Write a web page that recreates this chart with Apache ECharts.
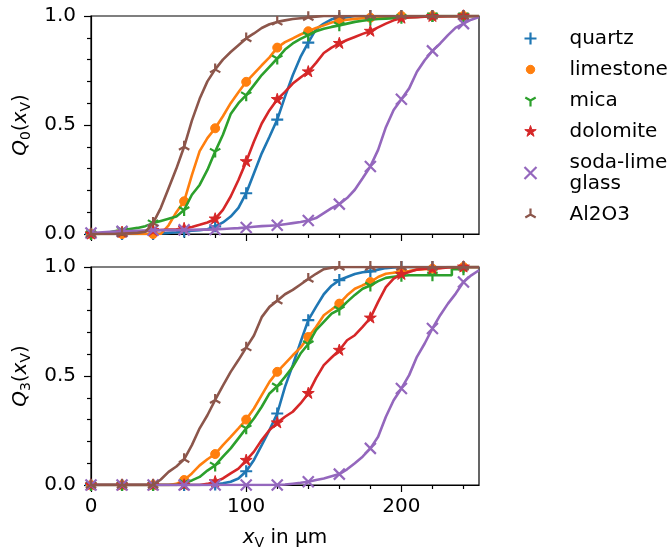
<!DOCTYPE html>
<html><head><meta charset="utf-8">
<script src="https://cdn.jsdelivr.net/npm/echarts@6/dist/echarts.min.js"></script>
<style>html,body{margin:0;padding:0;background:#fff}#c{width:668px;height:552px}</style>
</head><body><div id="c"></div>
<script>
// sampling positions in µm
const xs = [0,5,10,15,20,25,30,35,40,45,50,55,60,65,70,75,80,85,90,95,100,105,110,115,120,125,130,135,140,145,150,155,160,165,170,175,180,185,190,195,200,205,210,215,220,225,230,235,240,245,250];
const markerStep = 20;
const markerMax = 240;
const xTickMajor = [0,100,200];
const xTickMinor = [20,40,60,80,120,140,160,180,220,240];

// Q0 (number based)
const quartzQ0 = [0,0,0,0,0,0,0,0,0,0.002,0.005,0.008,0.012,0.015,0.017,0.022,0.035,0.053,0.08,0.12,0.187,0.279,0.37,0.446,0.525,0.63,0.728,0.812,0.878,0.94,0.965,0.985,0.99,0.995,1,1,1,1,1,1,1,1,1,1,1,1,1,1,1,1,1];
const limestoneQ0 = [0,0,0,0,0,0,0,0,0,0,0.04,0.10,0.15,0.27,0.38,0.44,0.485,0.54,0.60,0.65,0.698,0.736,0.774,0.81,0.855,0.88,0.897,0.915,0.93,0.945,0.957,0.97,0.978,0.983,0.987,0.99,0.992,0.994,0.996,0.998,1,1,1,1,1,1,1,1,1,1,1];
const micaQ0 = [0,0,0.005,0.012,0.018,0.023,0.028,0.036,0.05,0.06,0.07,0.08,0.11,0.18,0.225,0.294,0.378,0.455,0.55,0.60,0.637,0.683,0.729,0.767,0.805,0.846,0.874,0.895,0.912,0.93,0.942,0.95,0.957,0.965,0.973,0.978,0.983,0.986,0.988,0.99,0.992,0.994,0.996,0.998,1,1,1,1,1,1,1];
const dolomiteQ0 = [0,0.002,0.004,0.006,0.008,0.01,0.012,0.014,0.016,0.018,0.02,0.022,0.025,0.032,0.042,0.053,0.069,0.111,0.172,0.248,0.332,0.424,0.507,0.568,0.617,0.652,0.69,0.718,0.744,0.785,0.83,0.855,0.874,0.89,0.904,0.918,0.93,0.948,0.965,0.98,0.99,0.993,0.995,0.997,0.998,0.998,0.999,0.999,1,1,1];
const sodaQ0 = [0.005,0.007,0.009,0.011,0.012,0.014,0.015,0.016,0.017,0.018,0.018,0.018,0.019,0.019,0.02,0.02,0.021,0.023,0.025,0.027,0.03,0.033,0.036,0.038,0.04,0.045,0.05,0.055,0.062,0.073,0.096,0.119,0.137,0.165,0.203,0.256,0.31,0.386,0.49,0.569,0.618,0.668,0.744,0.797,0.84,0.874,0.912,0.947,0.965,0.983,0.995];
const al2o3Q0 = [0,0,0,0,0.002,0.003,0.005,0.01,0.05,0.12,0.21,0.30,0.40,0.52,0.62,0.70,0.755,0.80,0.835,0.866,0.897,0.92,0.945,0.962,0.973,0.98,0.986,0.99,0.994,0.997,1,1,1,1,1,1,1,1,1,1,1,1,1,1,1,1,1,1,1,1,1];

// Q3 (volume based)
const quartzQ3 = [0,0,0,0,0,0,0,0,0,0,0,0,0,0,0,0,0.002,0.008,0.015,0.03,0.063,0.115,0.183,0.252,0.328,0.45,0.55,0.655,0.756,0.817,0.875,0.914,0.94,0.954,0.968,0.976,0.98,0.988,0.995,0.998,1,1,1,1,1,1,1,1,1,1,1];
const limestoneQ3 = [0,0,0,0,0,0,0,0,0,0,0,0.005,0.023,0.053,0.09,0.118,0.142,0.183,0.221,0.26,0.30,0.351,0.412,0.473,0.519,0.557,0.595,0.63,0.679,0.725,0.779,0.805,0.832,0.87,0.90,0.916,0.931,0.954,0.969,0.974,0.977,0.982,0.988,0.99,0.992,0.996,1,1,1,1,1];
const micaQ3 = [0,0,0,0,0,0,0,0,0,0,0,0,0.01,0.021,0.037,0.066,0.09,0.13,0.168,0.214,0.26,0.305,0.359,0.42,0.453,0.496,0.542,0.603,0.647,0.71,0.748,0.786,0.805,0.84,0.872,0.9,0.915,0.935,0.95,0.955,0.96,0.962,0.962,0.962,0.962,0.962,0.962,0.99,0.99,1,1];
const micaQ3Steps = [[232.5,0.962],[232.5,0.99],[242.5,0.99],[242.5,1]];
const dolomiteQ3 = [0,0,0,0,0,0,0,0,0,0,0,0,0,0,0,0.005,0.015,0.03,0.053,0.075,0.113,0.153,0.206,0.252,0.285,0.313,0.336,0.374,0.42,0.49,0.55,0.585,0.618,0.664,0.687,0.725,0.766,0.84,0.908,0.947,0.966,0.977,0.988,0.992,0.992,0.995,0.998,0.999,1,1,1];
const sodaQ3 = [0,0,0,0,0,0,0,0,0,0,0,0,0,0,0,0,0,0,0,0,0,0,0,0,0,0.002,0.006,0.01,0.015,0.023,0.03,0.04,0.05,0.072,0.1,0.13,0.168,0.221,0.313,0.389,0.443,0.504,0.588,0.649,0.718,0.779,0.832,0.878,0.931,0.962,0.985];
const al2o3Q3 = [0,0,0,0,0,0,0,0,0,0.025,0.06,0.085,0.118,0.183,0.26,0.32,0.39,0.456,0.519,0.573,0.63,0.686,0.77,0.817,0.845,0.875,0.895,0.92,0.945,0.969,0.99,0.997,1,1,1,1,1,1,1,1,1,1,1,1,1,1,1,1,1,1,1];

const names = ['quartz','limestone','mica','dolomite','soda-lime\nglass','Al2O3'];
const colors = ['#1f77b4','#ff7f0e','#2ca02c','#d62728','#9467bd','#8c564b'];

const SQ = 'M-10,-10M10,10';
const PLUS = 'path://' + SQ + 'M0,-10L0,10M-10,0L10,0';
const TRI_DOWN = 'path://' + SQ + 'M0,0L0,10M0,0L-8.66,-5M0,0L8.66,-5';
const TRI_UP = 'path://' + SQ + 'M0,0L0,-10M0,0L-8.66,5M0,0L8.66,5';
const XMARK = 'path://M-10,-10L10,10M-10,10L10,-10';
const STAR = 'path://' + SQ + 'M0,-10L2.245,-3.09L9.51,-3.09L3.63,1.18L5.88,8.09L0,3.82L-5.88,8.09L-3.63,1.18L-9.51,-3.09L-2.245,-3.09Z';
const CIRC_LEG = 'path://' + SQ + 'M0,-7A7,7,0,1,1,0,7A7,7,0,1,1,0,-7Z';

const defs = [
  {sym: PLUS, leg: PLUS, size: 12, stroke: true, q0: quartzQ0, q3: quartzQ3},
  {sym: 'circle', leg: CIRC_LEG, size: 9, stroke: false, q0: limestoneQ0, q3: limestoneQ3},
  {sym: TRI_DOWN, leg: TRI_DOWN, size: 12, stroke: true, q0: micaQ0, q3: micaQ3, extra3: micaQ3Steps},
  {sym: STAR, leg: STAR, size: 12.5, stroke: false, q0: dolomiteQ0, q3: dolomiteQ3},
  {sym: XMARK, leg: XMARK, size: 11, stroke: true, q0: sodaQ0, q3: sodaQ3},
  {sym: TRI_UP, leg: TRI_UP, size: 12, stroke: true, q0: al2o3Q0, q3: al2o3Q3}
];

function styleFor(d, c) {
  return d.stroke ? {color: 'none', borderColor: c, borderWidth: 2.2}
                  : {color: c, borderColor: c, borderWidth: 1};
}
function isMarker(x) { return x % markerStep === 0 && x <= markerMax; }

const FONT = 'DejaVu Sans';
const series = [];
[0,1].forEach(g => {
  defs.forEach((d, i) => {
    const vals = g === 0 ? d.q0 : d.q3;
    let pts = xs.map((x, k) => [x, vals[k]]);
    if (g === 1 && d.extra3) {
      pts = pts.concat(d.extra3).sort((a, b) => a[0] - b[0] || a[1] - b[1]);
    }
    series.push({
      type: 'line', name: names[i], xAxisIndex: g * 2, yAxisIndex: g,
      data: pts,
      symbol: (v) => isMarker(v[0]) ? d.sym : 'none',
      symbolSize: d.size, showAllSymbol: true,
      lineStyle: {color: colors[i], width: 2.6},
      itemStyle: styleFor(d, colors[i]),
      emphasis: {disabled: true}, animation: false, clip: true, z: 2 + i
    });
  });
});

const axisLineStyle = {color: '#000', width: 1.2};
function xMajor(g, labels) {
  return {
    type: 'value', gridIndex: g, min: 0, max: 250, position: 'bottom',
    axisLine: {show: true, onZero: false, lineStyle: axisLineStyle},
    axisTick: {show: true, inside: false, length: 7, customValues: xTickMajor, lineStyle: axisLineStyle},
    axisLabel: {show: labels, customValues: xTickMajor, color: '#000', fontFamily: FONT, fontSize: 20, margin: 12},
    splitLine: {show: false},
    name: labels ? '{i|x}{s|V}{n| in µm}' : '',
    nameLocation: 'middle', nameGap: 41,
    nameTextStyle: {rich: {
      i: {fontFamily: FONT, fontSize: 20, fontStyle: 'italic', color: '#000'},
      s: {fontFamily: FONT, fontSize: 14, color: '#000', padding: [10, 0, 0, 0]},
      n: {fontFamily: FONT, fontSize: 20, color: '#000'}
    }}
  };
}
function xMinor(g) {
  return {
    type: 'value', gridIndex: g, min: 0, max: 250, position: 'bottom',
    axisLine: {show: false},
    axisTick: {show: true, inside: false, length: 4, customValues: xTickMinor, lineStyle: axisLineStyle},
    axisLabel: {show: false}, splitLine: {show: false}
  };
}
function yAx(g, sub) {
  return {
    type: 'value', gridIndex: g, min: 0, max: 1, interval: 0.5,
    axisLine: {show: true, onZero: false, lineStyle: axisLineStyle},
    axisTick: {show: true, inside: false, length: 7, lineStyle: axisLineStyle},
    minorTick: {show: true, splitNumber: 5, length: 4, lineStyle: axisLineStyle},
    axisLabel: {color: '#000', fontFamily: FONT, fontSize: 20, margin: 15, formatter: v => v.toFixed(1)},
    splitLine: {show: false}, minorSplitLine: {show: false},
    name: '{i|Q}{s|' + sub + '}{n|(}{i|x}{s|V}{n|)}',
    nameLocation: 'middle', nameGap: 45,
    nameTextStyle: {rich: {
      i: {fontFamily: FONT, fontSize: 20, fontStyle: 'italic', color: '#000'},
      s: {fontFamily: FONT, fontSize: 14, color: '#000', padding: [10, 0, 0, 0]},
      n: {fontFamily: FONT, fontSize: 20, color: '#000'}
    }}
  };
}

const option = {
  backgroundColor: '#fff',
  animation: false,
  grid: [
    {left: 91, top: 16, width: 388, height: 218, show: true, borderColor: '#000', borderWidth: 1.2, backgroundColor: 'transparent'},
    {left: 91, top: 267, width: 388, height: 218, show: true, borderColor: '#000', borderWidth: 1.2, backgroundColor: 'transparent'}
  ],
  xAxis: [xMajor(0, false), xMinor(0), xMajor(1, true), xMinor(1)],
  yAxis: [yAx(0, '0'), yAx(1, '3')],
  legend: {
    orient: 'vertical', left: 522, top: 28, padding: 0,
    itemWidth: 12, itemHeight: 12, itemGap: 10,
    selectedMode: false,
    textStyle: {fontFamily: FONT, fontSize: 20, color: '#000', lineHeight: 21, padding: [0, 0, 0, 28]},
    data: defs.map((d, i) => ({name: names[i], icon: d.leg, itemStyle: styleFor(d, colors[i])}))
  },
  series: series
};
const chart = echarts.init(document.getElementById('c'), null, {renderer: 'canvas'});
chart.setOption(option);
</script></body></html>
